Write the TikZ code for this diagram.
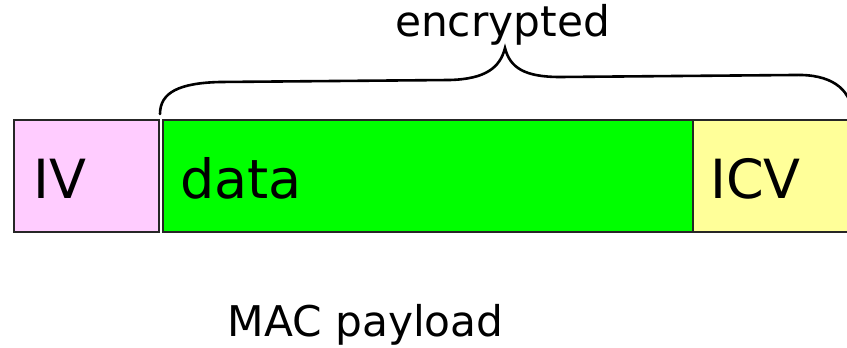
\documentclass[tikz,border=0pt]{standalone}
\usepackage{fontspec}
\setmainfont{DejaVu Sans}
\begin{document}
\begin{tikzpicture}[x=1pt,y=1pt,
  fieldbox/.style={draw=black!85, line width=1.6pt, minimum height=112pt, inner sep=0pt, anchor=south west},
  biglbl/.style={font=\fontsize{54}{60}\selectfont, inner sep=0pt, anchor=base west},
  midlbl/.style={font=\fontsize{42.3}{48}\selectfont, inner sep=0pt, anchor=base},
  bracestyle/.style={line width=2.6pt, line cap=round}]
\useasboundingbox (0,0) rectangle (847,348);
\node[fieldbox, fill={rgb,255:red,255;green,204;blue,255}, minimum width=145pt] (iv) at (13,115) {};
\node[fieldbox, fill={rgb,255:red,0;green,255;blue,0}, minimum width=530pt] (data) at (162,115) {};
\node[fieldbox, fill={rgb,255:red,255;green,255;blue,153}, minimum width=160pt] (icv) at (692,115) {};
\node[biglbl] (ivt) at (33,149) {IV};
\node[biglbl] (datat) at (180,149) {data};
\node[biglbl] (icvt) at (710,149) {ICV};
\node[midlbl] (enc) at (502.5,311) {encrypted};
\node[midlbl] (mac) at (365.5,11) {MAC payload};
\coordinate (bl) at (160,234);
\coordinate (bm) at (505,300);
\coordinate (br) at (852,236);
\draw[bracestyle] (bl) .. controls (160,256) and (180,265) .. (220,266)
  -- (450,268) .. controls (485,269) and (500,280) .. (bm)
  .. controls (510,280) and (525,271) .. (560,271)
  -- (795,273) .. controls (830,274) and (850,260) .. (br);
\end{tikzpicture}
\end{document}
